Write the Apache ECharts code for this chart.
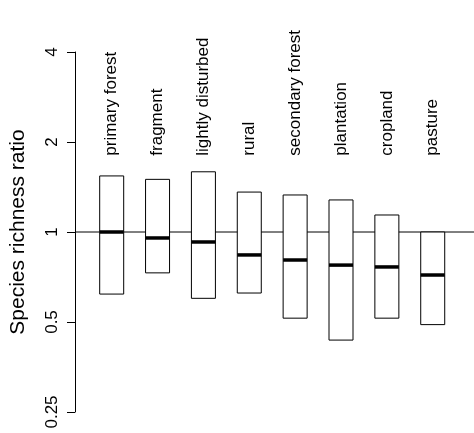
<!DOCTYPE html>
<html><head><meta charset="utf-8">
<script src="https://cdn.jsdelivr.net/npm/echarts@6/dist/echarts.min.js"></script>
<style>html,body{margin:0;background:#fff}#c{width:474px;height:433px}</style>
</head><body><div id="c"></div>
<script>
let categories = ['primary forest', 'fragment', 'lightly disturbed', 'rural', 'secondary forest', 'plantation', 'cropland', 'pasture'];
let lows = [0.62, 0.73, 0.60, 0.625, 0.515, 0.435, 0.515, 0.49];
let medians = [1.0, 0.955, 0.926, 0.838, 0.806, 0.775, 0.764, 0.718];
let highs = [1.54, 1.50, 1.59, 1.36, 1.33, 1.28, 1.14, 1.0];
let yTicks = [0.25, 0.5, 1, 2, 4];

let boxData = categories.map(function (c, i) { return [i + 1, lows[i], medians[i], highs[i]]; });

let chart = echarts.init(document.getElementById('c'));
chart.setOption({
    animation: false,
    grid: {left: 68, right: 0, top: 52, bottom: 21},
    xAxis: {type: 'value', min: 0.2, max: 8.9, show: false},
    yAxis: {
        type: 'log', logBase: 2, min: 0.25, max: 4,
        name: 'Species richness ratio', nameLocation: 'middle', nameGap: 46,
        nameTextStyle: {fontFamily: 'Liberation Sans', fontSize: 21, color: '#000'},
        axisLine: {show: true, lineStyle: {color: '#000', width: 1}},
        axisTick: {show: true, length: 8, lineStyle: {color: '#000'}},
        splitLine: {show: false},
        axisLabel: {
            rotate: 90, margin: 14, fontFamily: 'Liberation Sans', fontSize: 17, color: '#000',
            formatter: function (v) { return yTicks.indexOf(+v.toFixed(2)) >= 0 ? String(+v.toFixed(2)) : ''; }
        }
    },
    series: [
        {
            type: 'line', data: [[0.2, 1], [8.9, 1]], symbol: 'none',
            lineStyle: {color: '#000', width: 1}, z: 1
        },
        {
            type: 'custom', data: boxData, z: 2,
            renderItem: function (params, api) {
                let x = api.value(0);
                let lo = api.coord([x, api.value(1)]);
                let md = api.coord([x, api.value(2)]);
                let hi = api.coord([x, api.value(3)]);
                let lab = api.coord([x, 1.8]);
                let hw = 12;
                return {
                    type: 'group',
                    children: [
                        {type: 'rect', shape: {x: lo[0] - hw, y: hi[1], width: 2 * hw, height: lo[1] - hi[1]},
                            style: {fill: '#fff', stroke: '#000', lineWidth: 1}},
                        {type: 'line', shape: {x1: md[0] - hw, y1: md[1], x2: md[0] + hw, y2: md[1]},
                            style: {stroke: '#000', lineWidth: 3.5}},
                        {type: 'text', x: lab[0], y: lab[1], rotation: Math.PI / 2,
                            style: {text: categories[params.dataIndex], fill: '#000', fontFamily: 'Liberation Sans',
                                fontSize: 17, align: 'left', verticalAlign: 'middle'}}
                    ]
                };
            }
        }
    ]
});
</script></body></html>
